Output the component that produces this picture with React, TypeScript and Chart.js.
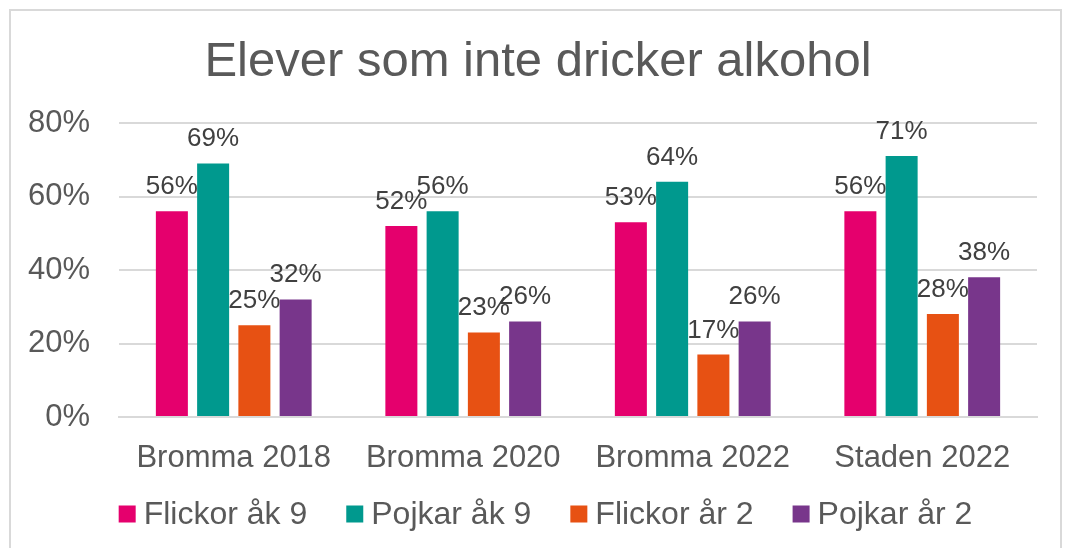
import React, { useEffect, useRef } from "react";
import { Chart, registerables } from "chart.js";

Chart.register(...registerables);

const title = "Elever som inte dricker alkohol";
const categories = ["Bromma 2018", "Bromma 2020", "Bromma 2022", "Staden 2022"];
const seriesNames = ["Flickor åk 9", "Pojkar åk 9", "Flickor år 2", "Pojkar år 2"];
const flickorAk9 = [56, 52, 53, 56];
const pojkarAk9 = [69, 56, 64, 71];
const flickorAr2 = [25, 23, 17, 28];
const pojkarAr2 = [32, 26, 26, 38];
const yTicks = [0, 20, 40, 60, 80];
const seriesColors = ["#E5006D", "#00998E", "#E75113", "#78368B"];

const FONT = '"Liberation Sans", Arial, sans-serif';

const overlayPlugin = {
  id: "overlay",
  afterDraw(chart: any) {
    const ctx = chart.ctx as CanvasRenderingContext2D;
    ctx.save();
    // Title
    ctx.fillStyle = "#595959";
    ctx.font = `49px ${FONT}`;
    ctx.textAlign = "center";
    ctx.textBaseline = "alphabetic";
    ctx.fillText(title, 538, 76);

    // Data labels
    ctx.font = `26px ${FONT}`;
    ctx.fillStyle = "#404040";
    chart.data.datasets.forEach((ds: any, i: number) => {
      const meta = chart.getDatasetMeta(i);
      meta.data.forEach((bar: any, j: number) => {
        ctx.fillText(`${ds.data[j]}%`, bar.x, bar.y - 17);
      });
    });

    // Legend
    const box = 17;
    const gap = 8;
    const spacing = 39;
    ctx.font = `32px ${FONT}`;
    const items = chart.data.datasets.map((ds: any) => ({
      label: ds.label as string,
      color: ds.backgroundColor as string,
      w: ctx.measureText(ds.label).width,
    }));
    const total =
      items.reduce((s: number, it: any) => s + box + gap + it.w, 0) +
      spacing * (items.length - 1);
    let x = 545.5 - total / 2;
    const cy = 514;
    ctx.textAlign = "left";
    ctx.textBaseline = "middle";
    items.forEach((it: any) => {
      ctx.fillStyle = it.color;
      ctx.fillRect(x, cy - box / 2, box, box);
      ctx.fillStyle = "#595959";
      ctx.fillText(it.label, x + box + gap, cy + 1);
      x += box + gap + it.w + spacing;
    });
    ctx.restore();
  },
};

export default function App() {
  const ref = useRef<HTMLCanvasElement | null>(null);

  useEffect(() => {
    if (!ref.current) return;
    const values = [flickorAk9, pojkarAk9, flickorAr2, pojkarAr2];
    const chart = new Chart(ref.current, {
      type: "bar",
      data: {
        labels: categories,
        datasets: seriesNames.map((name, i) => ({
          label: name,
          data: values[i],
          backgroundColor: seriesColors[i],
          borderWidth: 0,
          categoryPercentage: 0.719,
          barPercentage: 0.776,
        })),
      },
      options: {
        responsive: false,
        animation: false,
        devicePixelRatio: 1,
        layout: { padding: { top: 123, left: 0, right: 29, bottom: 71 } },
        plugins: {
          legend: { display: false },
          title: { display: false },
          tooltip: { enabled: false },
        },
        scales: {
          x: {
            grid: { display: false },
            border: { display: true, color: "#d9d9d9", width: 2 },
            ticks: {
              color: "#595959",
              font: { family: FONT, size: 31 },
              padding: 15,
              maxRotation: 0,
              autoSkip: false,
            },
            afterFit: (s: any) => {
              s.height = 60;
            },
          },
          y: {
            min: 0,
            max: 80,
            grid: { color: "#d9d9d9", lineWidth: 2, drawTicks: false },
            border: { display: false },
            ticks: {
              color: "#595959",
              font: { family: FONT, size: 31 },
              padding: 29,
              callback: (v: any) => `${v}%`,
            },
            afterBuildTicks: (s: any) => {
              s.ticks = yTicks.map((v) => ({ value: v }));
            },
            afterFit: (s: any) => {
              s.width = 119;
            },
          },
        },
      },
      plugins: [overlayPlugin],
    });
    return () => chart.destroy();
  }, []);

  return (
    <div
      style={{
        position: "fixed",
        left: 0,
        top: 0,
        width: 1066,
        height: 548,
        background: "#ffffff",
        overflow: "hidden",
      }}
    >
      <div
        style={{
          position: "absolute",
          left: 9,
          top: 9,
          width: 1053,
          height: 620,
          border: "2px solid #d9d9d9",
          boxSizing: "border-box",
        }}
      />
      <canvas
        ref={ref}
        width={1066}
        height={548}
        style={{ position: "absolute", left: 0, top: 0, width: 1066, height: 548 }}
      />
    </div>
  );
}
